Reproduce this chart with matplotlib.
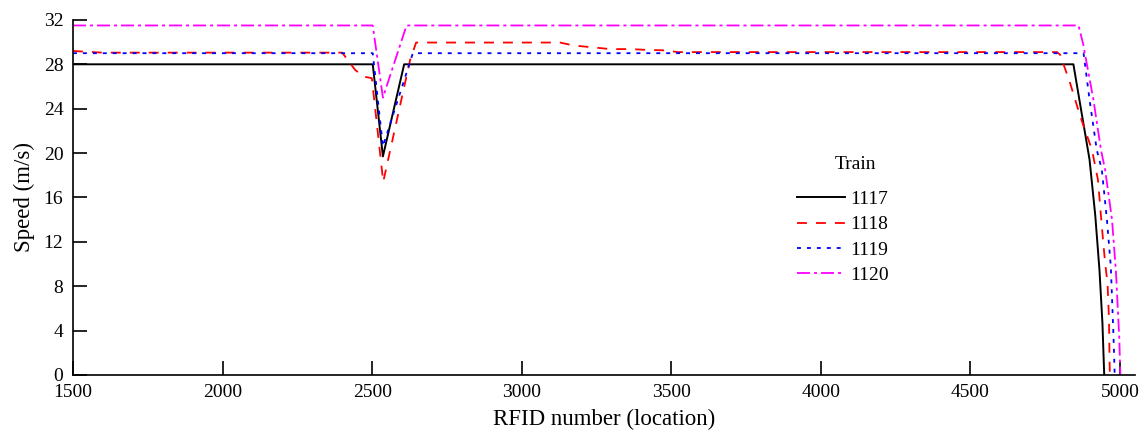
import numpy as np
import matplotlib
matplotlib.use("Agg")
import matplotlib.pyplot as plt

plt.rcParams['font.family'] = ['Liberation Serif', 'DejaVu Serif']

# speed profiles (RFID location, m/s)
x_1117 = [1500, 2502, 2536, 2607, 4844, 4864, 4898, 4917, 4931, 4941, 4947]
v_1117 = [28.0, 28.0, 19.7, 28.0, 28.0, 24.8, 19.4, 14.4, 9.5, 4.7, 0.0]

x_1118 = [1500, 1600, 2400, 2443, 2470, 2499, 2537, 2627, 2647, 3128, 3172, 3229,
          3296, 3362, 3419, 3486, 3520, 4789, 4800, 4833, 4867, 4906, 4926, 4939,
          4950, 4958, 4963, 4965, 4966]
v_1118 = [29.2, 29.05, 29.05, 27.5, 26.9, 26.75, 17.4, 28.4, 29.96, 29.96, 29.7, 29.55,
          29.37, 29.37, 29.3, 29.25, 29.1, 29.1, 28.85, 26.3, 23.3, 20.3, 17.6, 13.4,
          10.1, 8.3, 5.0, 1.1, 0.0]

x_1119 = [1500, 2502, 2536, 2636, 4878, 4898, 4922, 4939, 4956, 4969, 4978, 4982]
v_1119 = [29.0, 29.0, 20.6, 29.0, 29.0, 24.8, 20.3, 18.5, 14.0, 9.8, 3.5, 0.0]

x_1120 = [1500, 2502, 2536, 2615, 4861, 4876, 4911, 4936, 4950, 4973, 4984, 4987, 4997, 5001]
v_1120 = [31.5, 31.5, 25.0, 31.5, 31.5, 29.9, 24.8, 20.3, 18.5, 14.0, 10.1, 8.9, 3.5, 0.0]

fig = plt.figure(figsize=(11.42, 4.33), dpi=100)
ax = fig.add_axes([0.0639, 0.134, 0.930, 0.820])

ax.plot(x_1117, v_1117, color='black', lw=1.4, label='1117')
ax.plot(x_1118, v_1118, color='red', lw=1.3, dashes=(5.5, 5), label='1118')
ax.plot(x_1119, v_1119, color='blue', lw=1.3, dashes=(2.2, 3.3), label='1119')
ax.plot(x_1120, v_1120, color='magenta', lw=1.3, dashes=(7.2, 2.2, 1.7, 2.2), label='1120')

ax.set_xlim(1500, 5050)
ax.set_ylim(0, 32)
ax.set_xticks(np.arange(1500, 5001, 500))
ax.set_yticks(np.arange(0, 33, 4))
ax.tick_params(direction='in', length=10, width=1.2, labelsize=14)
ax.tick_params(axis='x', pad=6.5)
ax.tick_params(axis='y', pad=7)
ax.spines['top'].set_visible(False)
ax.spines['right'].set_visible(False)
ax.spines['left'].set_linewidth(1.2)
ax.spines['bottom'].set_linewidth(1.2)

ax.set_xlabel('RFID number (location)', fontsize=16.5, labelpad=6)
ax.set_ylabel('Speed (m/s)', fontsize=16.5, labelpad=6)

ax.legend(loc='upper left', bbox_to_anchor=(0.682, 0.520), frameon=False,
          fontsize=14, handlelength=2.47, handletextpad=0.26, labelspacing=0.4,
          borderpad=0, borderaxespad=0)
ax.text(0.737, 0.594, 'Train', transform=ax.transAxes, fontsize=14,
        ha='center', va='center')

fig.savefig('out.png', dpi=100)
